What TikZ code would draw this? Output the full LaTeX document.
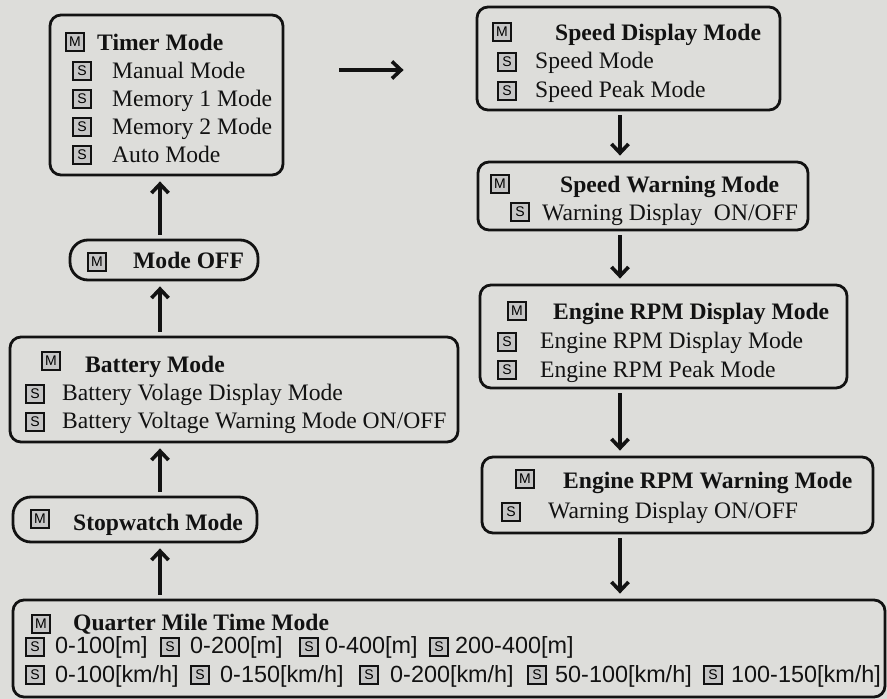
\documentclass[tikz,border=0pt]{standalone}
\usepackage{fontspec}
\setmainfont{Liberation Serif}
\newfontfamily\numfont{Liberation Sans}
\usetikzlibrary{arrows.meta}
\definecolor{paper}{RGB}{221,221,218}
\definecolor{ink}{RGB}{18,18,18}
\tikzset{>={Straight Barb[length=9pt,width=17pt]}}
\tikzset{
  box/.style={draw=ink,line width=2.8pt,rounded corners=11pt,inner sep=0pt},
  pill/.style={box,rounded corners=18pt},
  icon/.style={draw=ink,fill=gray!45,line width=1.6pt,minimum size=18pt,inner sep=0pt,
    font=\numfont\fontsize{14}{14}\selectfont},
  txt/.style={anchor=base west,inner sep=0pt,text=ink,font=\fontsize{23.6}{28}\selectfont},
  ttl/.style={txt,font=\fontsize{23.6}{28}\selectfont\bfseries},
  num/.style={txt,font=\numfont\fontsize{23.4}{28}\selectfont},
  arr/.style={->,draw=ink,line width=3.6pt,shorten <=4pt,shorten >=5pt},
}

\begin{document}
\begin{tikzpicture}[x=1pt,y=-1pt]
  \fill[paper] (0,0) rectangle (887,699);
  \coordinate (colL) at (160,0);
  \coordinate (colR) at (620,0);
  % 
  \node[box,minimum width=233,minimum height=160] (timer) at (166.5,95) {};
  \node[pill,minimum width=188,minimum height=40] (off) at (164,260) {};
  \node[box,minimum width=448,minimum height=105] (batt) at (234,389.5) {};
  \node[pill,minimum width=244,minimum height=45] (stop) at (135,519.5) {};
  \node[box,minimum width=872,minimum height=97] (quarter) at (449,648.5) {};
  \node[box,minimum width=303,minimum height=103] (speed) at (628.5,58.5) {};
  \node[box,minimum width=330,minimum height=68] (swarn) at (643,196) {};
  \node[box,minimum width=367,minimum height=103] (rpm) at (663.5,336.5) {};
  \node[box,minimum width=391,minimum height=76] (rwarn) at (677.5,495) {};
  % 
  \node[icon] (timer-m) at (75,42) {M};
  \node[ttl] (timer-t) at (97,50) {Timer Mode};
  \foreach \t [count=\i] in {Manual Mode,Memory 1 Mode,Memory 2 Mode,Auto Mode}{
    \node[icon] (timer-s\i) at (82,{43+28*\i}) {S};
    \node[txt] (timer-l\i) at (112,{50+28*\i}) {\t};
  }
  \node[icon] (off-m) at (97,262) {M};
  \node[ttl] (off-t) at (133,268) {Mode OFF};
  \node[icon] (batt-m) at (51,361) {M};
  \node[ttl] (batt-t) at (85,372) {Battery Mode};
  \node[icon] (batt-s1) at (35,394) {S};
  \node[txt] (batt-l1) at (62,400) {Battery Volage Display Mode};
  \node[icon] (batt-s2) at (35,422) {S};
  \node[txt] (batt-l2) at (62,428) {Battery Voltage Warning Mode ON/OFF};
  \node[icon] (stop-m) at (40,519) {M};
  \node[ttl] (stop-t) at (73,530) {Stopwatch Mode};
  \node[icon] (quarter-m) at (41,624) {M};
  \node[ttl] (quarter-t) at (73,630) {Quarter Mile Time Mode};
  \foreach \xs/\xt/\t [count=\i] in {35/55/{0-100[m]},170/190/{0-200[m]},309/325/{0-400[m]},439/455/{200-400[m]}}{
    \node[icon] (quarter-a\i) at (\xs,647) {S};
    \node[num] (quarter-b\i) at (\xt,653) {\t};
  }
  \foreach \xs/\xt/\t [count=\i] in {35/55/{0-100[km/h]},200/220/{0-150[km/h]},369/390/{0-200[km/h]},537/555/{50-100[km/h]},713/731/{100-150[km/h]}}{
    \node[icon] (quarter-c\i) at (\xs,675) {S};
    \node[num] (quarter-d\i) at (\xt,682) {\t};
  }
  % 
  \node[icon] (speed-m) at (502,32) {M};
  \node[ttl] (speed-t) at (555,40) {Speed Display Mode};
  \node[icon] (speed-s1) at (507,62) {S};
  \node[txt] (speed-l1) at (535,68) {Speed Mode};
  \node[icon] (speed-s2) at (507,91) {S};
  \node[txt] (speed-l2) at (535,97) {Speed Peak Mode};
  \node[icon] (swarn-m) at (500,184) {M};
  \node[ttl] (swarn-t) at (560,192) {Speed Warning Mode};
  \node[icon] (swarn-s1) at (520,212) {S};
  \node[txt] (swarn-l1) at (542,220) {Warning Display\ \ ON/OFF};
  \node[icon] (rpm-m) at (517,311) {M};
  \node[ttl] (rpm-t) at (553,319) {Engine RPM Display Mode};
  \node[icon] (rpm-s1) at (507,342) {S};
  \node[txt] (rpm-l1) at (540,348) {Engine RPM Display Mode};
  \node[icon] (rpm-s2) at (507,370) {S};
  \node[txt] (rpm-l2) at (540,377) {Engine RPM Peak Mode};
  \node[icon] (rwarn-m) at (525,479) {M};
  \node[ttl] (rwarn-t) at (563,488) {Engine RPM Warning Mode};
  \node[icon] (rwarn-s1) at (511,512) {S};
  \node[txt] (rwarn-l1) at (548,518) {Warning Display ON/OFF};
  % 
  \foreach \a/\b in {quarter/stop,stop/batt,batt/off,off/timer}
    \draw[arr] (\a.north -| colL) -- (\b.south -| colL);
  \foreach \a/\b in {speed/swarn,swarn/rpm,rpm/rwarn,rwarn/quarter}
    \draw[arr] (\a.south -| colR) -- (\b.north -| colR);
  \draw[arr,shorten <=0pt,shorten >=0pt] ([shift={(55,-25)}]timer.east) -- ([shift={(-72,11.5)}]speed.west);
\end{tikzpicture}
\end{document}
